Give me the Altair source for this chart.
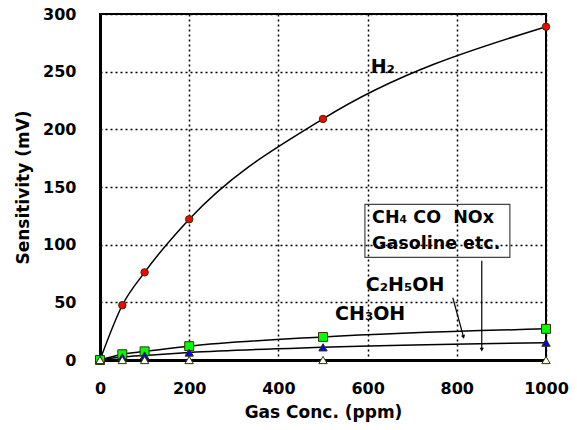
import altair as alt
import pandas as pd

conc = [0, 50, 100, 200, 500, 1000]
h2 = [0, 47.5, 76, 122, 209, 289]
c2h5oh = [0, 5, 7.5, 12, 20, 27]
ch3oh = [0, 2.5, 4, 6.5, 11, 15]
others = [0, 0, 0, 0, 0, 0]

series_names = ["H2", "C2H5OH", "CH3OH", "Others"]
series_vals = [h2, c2h5oh, ch3oh, others]

rows = []
for name, vals in zip(series_names, series_vals):
    for c, v in zip(conc, vals):
        rows.append({"series": name, "conc": c, "value": v})
df = pd.DataFrame(rows)

NB = "\u00a0"
# annotation texts
label_text = ["H\u2082", "C\u2082H\u2085OH", "CH\u2083OH", "CH\u2084" + NB + "CO" + NB + NB + "NOx", "Gasoline" + NB + "etc."]
label_x = [607, 596, 527, 610, 610]
label_y = [254, 65, 40, 123, 100.5]
label_size = [19, 19, 19, 17.5, 17.5]
labels = pd.DataFrame({"text": label_text, "x": label_x, "y": label_y, "size": label_size})

box = pd.DataFrame({"x": [594], "x2": [919], "y": [135], "y2": [89]})

arrow_x = [791, 856]
arrow_y = [54, 86]
arrow_x2 = [815, 856]
arrow_y2 = [20, 9]
arrow_angle = [345, 0]
arrows = pd.DataFrame({"x": arrow_x, "y": arrow_y, "x2": arrow_x2, "y2": arrow_y2, "angle": arrow_angle})

FONT = "DejaVu Sans"

xs = alt.Scale(domain=[0, 1000], nice=False)
ys = alt.Scale(domain=[0, 300], nice=False)

xaxis = alt.Axis(values=[0, 200, 400, 600, 800, 1000], format="d", title="Gas Conc. (ppm)", ticks=False,
                 labelPadding=20, titlePadding=8, labelFontSize=16, titleFontSize=17,
                 labelFlush=False, labelOverlap=False,
                 labelFont=FONT, titleFont=FONT, labelFontWeight="bold", titleFontWeight="bold",
                 labelColor="black", titleColor="black", domainColor="black", domainWidth=3,
                 grid=True, gridColor="black", gridDash=[2, 3], gridWidth=1.5, gridOpacity=1)
yaxis = alt.Axis(values=[0, 50, 100, 150, 200, 250, 300], format="d", title="Sensitivity (mV)", ticks=False,
                 labelPadding=24, titlePadding=10, labelFontSize=16, titleFontSize=17,
                 labelFlush=False, labelOverlap=False,
                 labelFont=FONT, titleFont=FONT, labelFontWeight="bold", titleFontWeight="bold",
                 labelColor="black", titleColor="black", domainColor="black", domainWidth=3,
                 grid=True, gridColor="black", gridDash=[2, 3], gridWidth=1.5, gridOpacity=1)

base = alt.Chart(df)

lines = base.mark_line(color="black", strokeWidth=1.5, interpolate="monotone").encode(
    x=alt.X("conc:Q", scale=xs, axis=xaxis),
    y=alt.Y("value:Q", scale=ys, axis=yaxis),
    detail="series:N",
)

def pts(name, shape, fill, size):
    return alt.Chart(df[df.series == name]).mark_point(
        shape=shape, filled=True, fill=fill, stroke="#333300", strokeWidth=1, size=size, opacity=1
    ).encode(x=alt.X("conc:Q", scale=xs), y=alt.Y("value:Q", scale=ys))

p_h2 = pts("H2", "circle", "#ff0000", 55)
p_c2 = pts("C2H5OH", "square", "#00ff00", 80)
p_ch3 = pts("CH3OH", "triangle-up", "#0000ff", 70)
p_oth = pts("Others", "triangle-up", "#ffffff", 70)

text = alt.Chart(labels).mark_text(align="left", baseline="middle", font=FONT, fontWeight="bold",
                                   color="black").encode(
    x=alt.X("x:Q", scale=xs), y=alt.Y("y:Q", scale=ys), text="text:N",
    size=alt.Size("size:Q", scale=None))

rect = alt.Chart(box).mark_rect(fill=None, fillOpacity=0, stroke="#444444", strokeWidth=1.2).encode(
    x=alt.X("x:Q", scale=xs), x2="x2:Q", y=alt.Y("y:Q", scale=ys), y2="y2:Q")

arrow_lines = alt.Chart(arrows).mark_rule(color="black", strokeWidth=1.2).encode(
    x=alt.X("x:Q", scale=xs), x2="x2:Q", y=alt.Y("y:Q", scale=ys), y2="y2:Q")
arrow_heads = alt.Chart(arrows).mark_point(shape="triangle-down", filled=True, color="black",
                                           size=18, opacity=1).encode(
    x=alt.X("x2:Q", scale=xs), y=alt.Y("y2:Q", scale=ys), angle=alt.Angle("angle:Q", scale=None))

chart = alt.layer(lines, rect, arrow_lines, arrow_heads, text, p_h2, p_c2, p_ch3, p_oth).properties(
    width=446, height=346,
    padding={"left": 100, "top": 14, "right": 31, "bottom": 70},
    autosize="none",
    background="white",
).configure_view(stroke="black", strokeWidth=2)

chart.save("out.html", embed_options={"renderer": "svg", "actions": False})
